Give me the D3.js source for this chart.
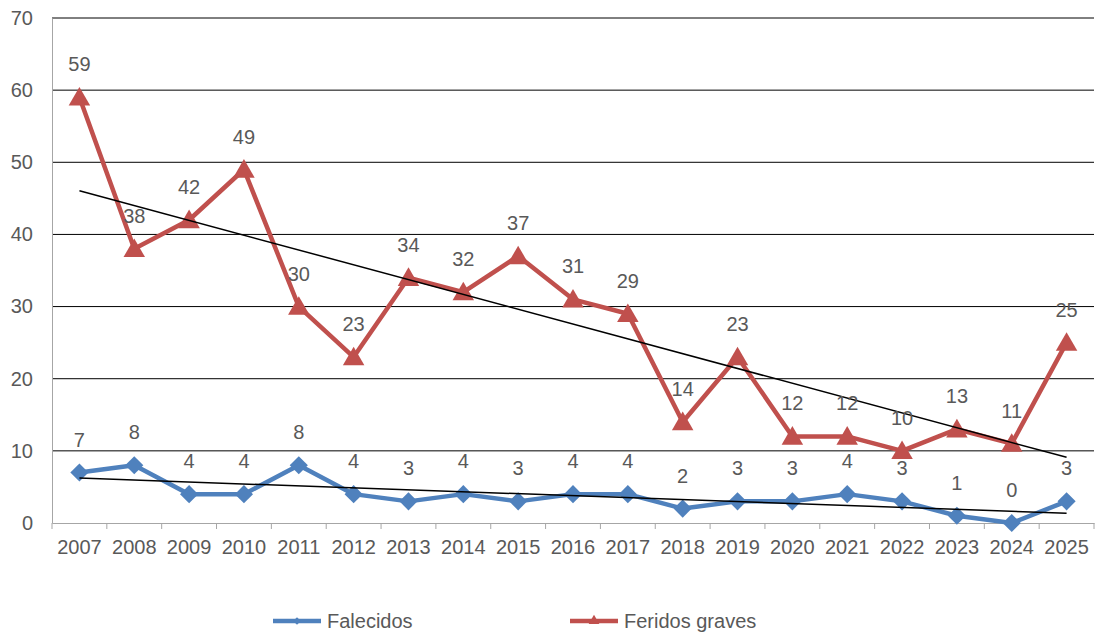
<!DOCTYPE html>
<html>
<head>
<meta charset="utf-8">
<script src="https://cdn.jsdelivr.net/npm/d3@7"></script>
<style>
  body { margin: 0; background: #fff; }
  text { font-family: "Liberation Sans", Arial, sans-serif; fill: #595959; }
</style>
</head>
<body>
<div id="chart"></div>
<script>
var years = ["2007", "2008", "2009", "2010", "2011", "2012", "2013", "2014", "2015", "2016",
    "2017", "2018", "2019", "2020", "2021", "2022", "2023", "2024", "2025"];
var falecidos = [7, 8, 4, 4, 8, 4, 3, 4, 3, 4, 4, 2, 3, 3, 4, 3, 1, 0, 3];
var feridos = [59, 38, 42, 49, 30, 23, 34, 32, 37, 31, 29, 14, 23, 12, 12, 10, 13, 11, 25];
var yTicks = [0, 10, 20, 30, 40, 50, 60, 70];

var w = 1096, h = 634;
var plotLeft = 52, plotRight = 1094, plotTop = 18, plotBottom = 523;

var svg = d3.select("#chart").append("svg")
    .attr("width", w)
    .attr("height", h);

var x = d3.scaleBand().domain(years).range([plotLeft, plotRight]).padding(0);
var y = d3.scaleLinear().domain([0, 70]).range([plotBottom, plotTop]);
var cx = d => x(d) + x.bandwidth() / 2;

// gridlines
svg.append("g")
    .selectAll("line")
    .data(yTicks.filter(t => t > 0))
    .enter().append("line")
    .attr("x1", plotLeft).attr("x2", plotRight)
    .attr("y1", d => y(d)).attr("y2", d => y(d))
    .attr("stroke", "#000").attr("stroke-width", 1);

// y axis
var yaxis = d3.axisLeft(y).tickValues(yTicks).tickSize(0).tickPadding(19);
svg.append("g")
    .attr("transform", "translate(" + plotLeft + ",0)")
    .call(yaxis)
    .call(g => g.select(".domain").attr("stroke", "#a6a6a6"))
    .selectAll("text").style("font-size", "20px");

// x axis with ticks between categories
var xaxis = d3.axisBottom(x).tickSize(0).tickPadding(17);
svg.append("g")
    .attr("transform", "translate(0," + plotBottom + ")")
    .call(xaxis)
    .call(g => g.select(".domain").attr("stroke", "#a6a6a6"))
    .selectAll("text").style("font-size", "20px");
svg.append("g")
    .selectAll("line")
    .data(years.concat(["end"]))
    .enter().append("line")
    .attr("x1", (d, i) => plotLeft + i * x.bandwidth())
    .attr("x2", (d, i) => plotLeft + i * x.bandwidth())
    .attr("y1", plotBottom).attr("y2", plotBottom + 6)
    .attr("stroke", "#a6a6a6");

// least squares trend
function trend(vals) {
    var n = vals.length, mx = (n - 1) / 2, my = d3.mean(vals);
    var sxy = 0, sxx = 0;
    vals.forEach((v, i) => { sxy += (i - mx) * (v - my); sxx += (i - mx) * (i - mx); });
    var b = sxy / sxx, a = my - b * mx;
    return [a, a + b * (n - 1)];
}

var series = [
    { name: "Falecidos", values: falecidos, color: "#4F81BD", marker: d3.symbolSquare, size: 165,
      tf: " rotate(45)" },
    { name: "Feridos graves", values: feridos, color: "#C0504D", marker: d3.symbolTriangle, size: 200,
      tf: " translate(0,2)" }
];

var line = d3.line().x((d, i) => cx(years[i])).y(d => y(d));

series.forEach(s => {
    svg.append("path")
        .attr("d", line(s.values))
        .attr("fill", "none")
        .attr("stroke", s.color)
        .attr("stroke-width", 4.5)
        .attr("stroke-linejoin", "round");
    svg.append("g").selectAll("path")
        .data(s.values)
        .enter().append("path")
        .attr("d", d3.symbol().type(s.marker).size(s.size))
        .attr("transform", (d, i) => "translate(" + cx(years[i]) + "," + y(d) + ")" + s.tf)
        .attr("fill", s.color);
});

// trend lines
series.forEach(s => {
    var t = trend(s.values);
    svg.append("line")
        .attr("x1", cx(years[0])).attr("y1", y(t[0]))
        .attr("x2", cx(years[years.length - 1])).attr("y2", y(t[1]))
        .attr("stroke", "#000").attr("stroke-width", 1.5);
});

// data labels
series.forEach(s => {
    svg.append("g").selectAll("text")
        .data(s.values)
        .enter().append("text")
        .attr("x", (d, i) => cx(years[i]))
        .attr("y", d => y(d) - 33)
        .attr("dy", "0.35em")
        .attr("text-anchor", "middle")
        .style("font-size", "20px")
        .text(d => d);
});

// legend
var legend = [
    { s: series[0], x: 273, size: 30 },
    { s: series[1], x: 570, size: 50 }
];
legend.forEach(l => {
    var g = svg.append("g").attr("transform", "translate(" + l.x + ",621)");
    g.append("line").attr("x1", 0).attr("x2", 48)
        .attr("stroke", l.s.color).attr("stroke-width", 4.5);
    g.append("path")
        .attr("d", d3.symbol().type(l.s.marker).size(l.size))
        .attr("transform", "translate(24,0)" + l.s.tf.replace("translate(0,2)", ""))
        .attr("fill", l.s.color);
    g.append("text")
        .attr("x", 54).attr("dy", "0.35em")
        .style("font-size", "20px")
        .text(l.s.name);
});
</script>
</body>
</html>
